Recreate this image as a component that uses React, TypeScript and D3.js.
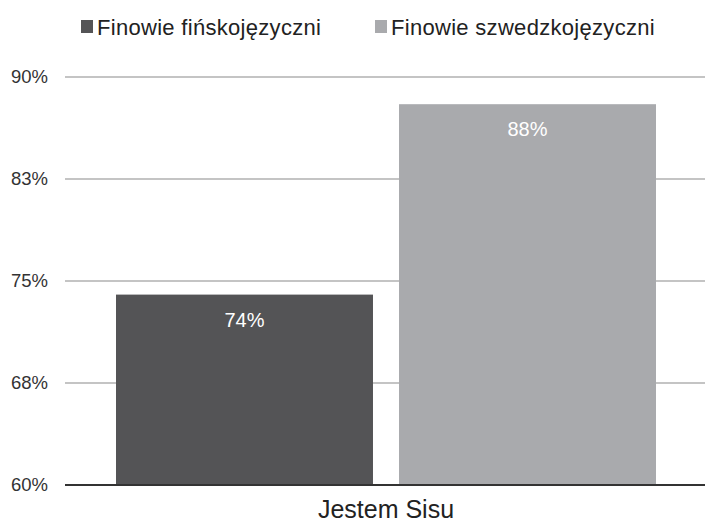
import * as React from 'react';
import * as d3 from 'd3';

const categories = ['Jestem Sisu'];
const seriesNames = ['Finowie fińskojęzyczni', 'Finowie szwedzkojęzyczni'];
const seriesValues = [74, 88];
const seriesColours = ['#545456', '#a9aaad'];
const yTicks = [60, 67.5, 75, 82.5, 90];

const width = 705;
const height = 525;
const font = '"Liberation Sans", Arial, sans-serif';

export default function App() {
  const left = 65;
  const top = 77;
  const bottom = 485;

  const x0 = d3.scaleBand().domain(categories).range([116, 656]).paddingInner(0).paddingOuter(0);
  const x1 = d3.scaleBand().domain(seriesNames).range([0, x0.bandwidth()]).paddingInner(0.092);
  const y = d3.scaleLinear().domain([60, 90]).range([bottom, top]);

  return (
    <svg width={width} height={height} style={{ position: 'absolute', left: 0, top: 0, background: '#fff' }} fontFamily={font}>
      {yTicks.map(t => (
        <g key={t}>
          <line x1={left} x2={width} y1={y(t)} y2={y(t)} stroke={t === 60 ? '#333' : '#b0b0b0'} strokeWidth={t === 60 ? 2 : 1.5} />
          <text x={48} y={y(t)} dy="0.35em" textAnchor="end" fontSize={18.5} fill="#333">{Math.round(t)}%</text>
        </g>
      ))}
      {categories.map(c => (
        <g key={c}>
          {seriesNames.map((s, i) => {
            const bx = (x0(c) ?? 0) + (x1(s) ?? 0);
            const v = seriesValues[i];
            return (
              <g key={s}>
                <rect x={bx} y={y(v)} width={x1.bandwidth()} height={y(60) - y(v) - 1} fill={seriesColours[i]} />
                <text x={bx + x1.bandwidth() / 2} y={y(v) + 25} dy="0.35em" textAnchor="middle" fontSize={20} fill="#fff">{v}%</text>
              </g>
            );
          })}
          <text x={(x0(c) ?? 0) + x0.bandwidth() / 2} y={509} dy="0.35em" textAnchor="middle" fontSize={25} fill="#222">{c}</text>
        </g>
      ))}
      {seriesNames.map((s, i) => {
        const lx = [81, 375][i];
        return (
          <g key={s}>
            <rect x={lx} y={20} width={12} height={13} fill={seriesColours[i]} />
            <text x={lx + 16} y={27} dy="0.35em" fontSize={22} letterSpacing={0.3} fill="#222">{s}</text>
          </g>
        );
      })}
    </svg>
  );
}
